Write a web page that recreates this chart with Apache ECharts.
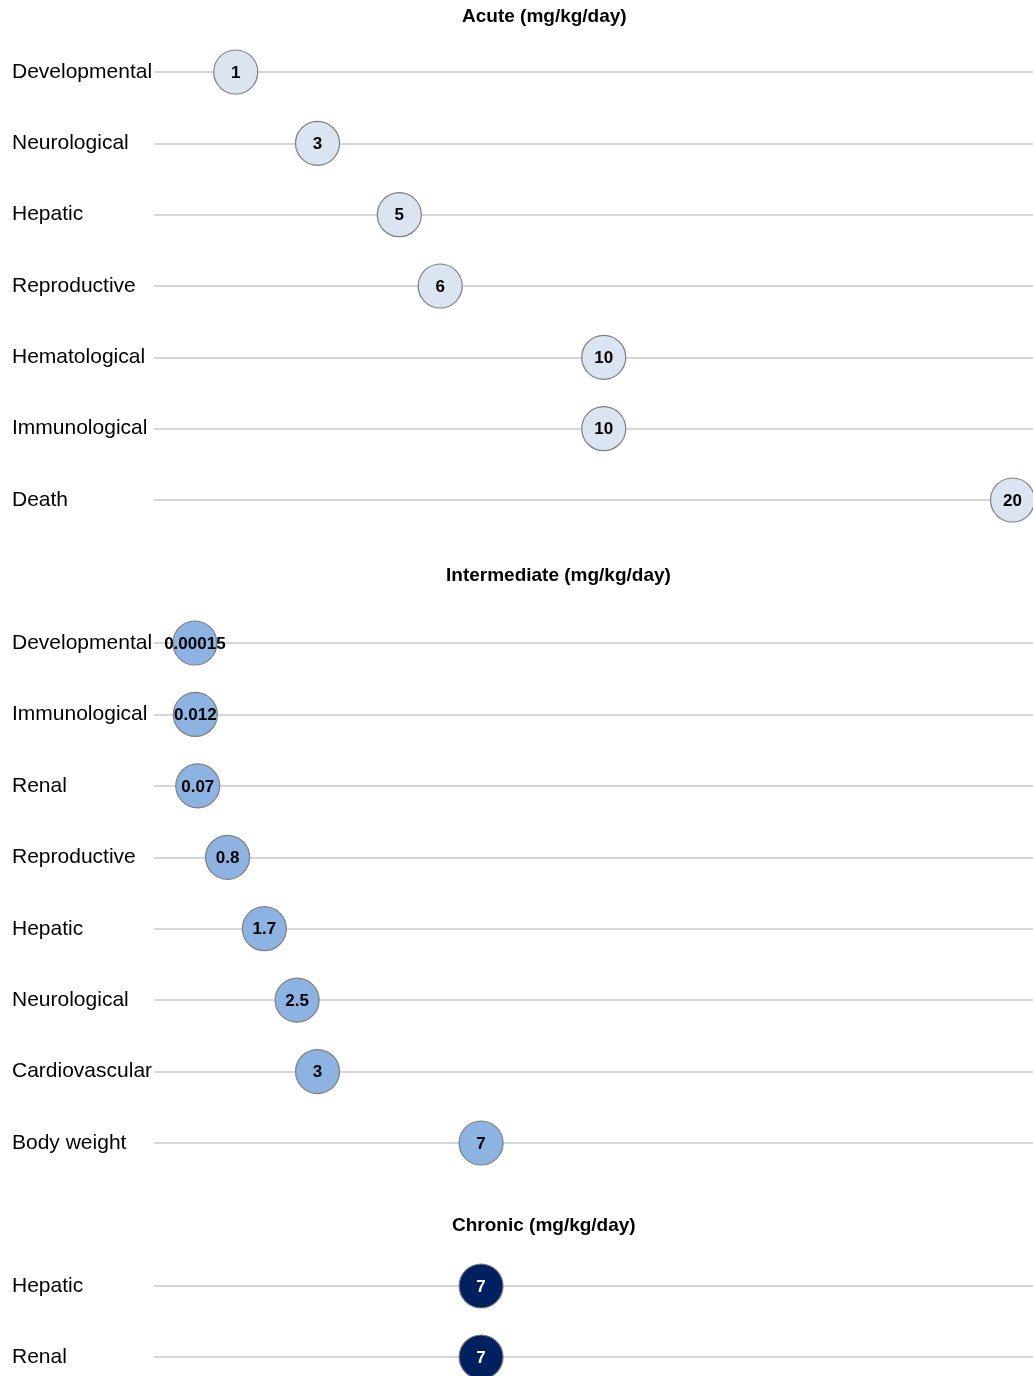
<!DOCTYPE html>
<html>
<head>
<meta charset="utf-8">
<script src="https://cdn.jsdelivr.net/npm/echarts@6/dist/echarts.min.js"></script>
<style>
  html, body { margin: 0; padding: 0; background: #fff; }
  #chart { width: 1033px; height: 1376px; }
</style>
</head>
<body>
<div id="chart"></div>
<script>
// endpoints per duration, values in mg/kg/day
const acuteCats = ['Developmental', 'Neurological', 'Hepatic', 'Reproductive', 'Hematological', 'Immunological', 'Death']
const acuteVals = [1, 3, 5, 6, 10, 10, 20]

const interCats = ['Developmental', 'Immunological', 'Renal', 'Reproductive', 'Hepatic', 'Neurological', 'Cardiovascular', 'Body weight']
const interVals = [0.00015, 0.012, 0.07, 0.8, 1.7, 2.5, 3, 7]

const chronicCats = ['Hepatic', 'Renal']
const chronicVals = [7, 7]

const panels = [
  { title: 'Acute (mg/kg/day)', titleLeft: 462, titleTop: 7, cats: acuteCats, vals: acuteVals, top: 72, bottom: 500, fill: '#dbe5f1', text: '#000' },
  { title: 'Intermediate (mg/kg/day)', titleLeft: 446, titleTop: 566, cats: interCats, vals: interVals, top: 643, bottom: 1143, fill: '#8db3e2', text: '#000' },
  { title: 'Chronic (mg/kg/day)', titleLeft: 452, titleTop: 1216, cats: chronicCats, vals: chronicVals, top: 1286, bottom: 1357, fill: '#002060', text: '#fff' },
]

const chart = echarts.init(document.getElementById('chart'))
const FONT = '"Liberation Sans", Arial, sans-serif'

chart.setOption({
  animation: false,
  title: panels.map(p => ({
    text: p.title,
    left: p.titleLeft,
    top: p.titleTop,
    padding: 0,
    textStyle: { fontFamily: FONT, fontSize: 19, fontWeight: 'bold', color: '#000' },
  })),
  grid: panels.map(p => ({
    left: 154,
    right: 0,
    top: p.top,
    height: p.bottom - p.top,
    containLabel: false,
  })),
  xAxis: panels.map((p, i) => ({
    type: 'value',
    gridIndex: i,
    min: -1,
    max: 20.5,
    show: false,
  })),
  yAxis: panels.map((p, i) => ({
    type: 'category',
    gridIndex: i,
    data: p.cats,
    inverse: true,
    boundaryGap: false,
    axisLine: { show: false },
    axisTick: { show: false },
    axisLabel: {
      align: 'left',
      verticalAlign: 'middle',
      margin: 142,
      fontFamily: FONT,
      fontSize: 21,
      color: '#000',
      padding: [0, 0, 2, 0],
    },
    splitLine: { show: true, lineStyle: { color: '#c8c8c8', width: 1.5 } },
  })),
  series: panels.map((p, i) => ({
    type: 'scatter',
    xAxisIndex: i,
    yAxisIndex: i,
    clip: false,
    symbolSize: 44,
    data: p.vals.map((v, j) => [v, p.cats[j]]),
    itemStyle: { color: p.fill, opacity: 1, borderColor: '#7f7f7f', borderWidth: 1.2 },
    emphasis: { disabled: true },
    label: {
      show: true,
      position: 'inside',
      offset: [0, 1],
      formatter: d => String(d.value[0]),
      fontFamily: FONT,
      fontSize: 17,
      fontWeight: 'bold',
      color: p.text,
    },
  })),
})
</script>
</body>
</html>
